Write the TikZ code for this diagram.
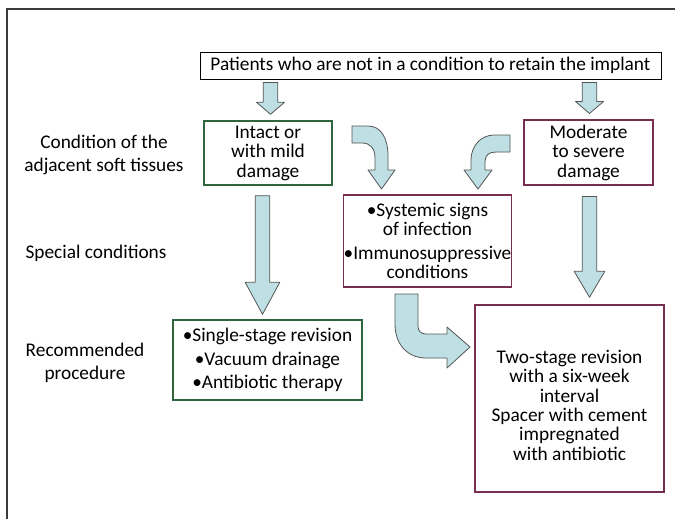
\documentclass[tikz,border=0pt]{standalone}
\usepackage{fontspec}
\setmainfont{Carlito}
\usetikzlibrary{calc}

\definecolor{boxgreen}{RGB}{46,100,62}
\definecolor{boxred}{RGB}{120,46,80}
\definecolor{arrowfill}{RGB}{190,224,228}
\definecolor{arrowline}{RGB}{85,85,85}
\definecolor{framegray}{RGB}{60,60,60}

\newcommand*{\px}{0.75pt}
\newcommand*{\shaft}{5.5pt}
% block arrow pointing down: start, tip, head length, head half width
\newcommand*{\downblock}[4]{%
	\draw[blockarrow] let \p1=(#1), \p2=(#2) in
		(\x1-\shaft,\y1) -- (\x1+\shaft,\y1) -- (\x1+\shaft,\y2+#3) -- (\x1+#4,\y2+#3)
		-- (\x1,\y2) -- (\x1-#4,\y2+#3) -- (\x1-\shaft,\y2+#3) -- cycle;}

\begin{document}
\begin{tikzpicture}
[
	x=\px,
	y=-\px,
	every node/.style={font=\fontsize{14.5}{14.6}\selectfont, align=center},
	greenbox/.style={draw=boxgreen, line width=1.1pt},
	redbox/.style={draw=boxred, line width=1.1pt},
	blockarrow/.style={draw=arrowline, fill=arrowfill, line width=0.6pt, line join=round}
]

	\useasboundingbox (0,0) rectangle (675,519);

	% frame
	\draw[framegray, line width=0.8pt] (675,9) -- (7,9) -- (7,519);

	% row labels
	\node (condlabel) at (104,155) {Condition of the\\[3pt]adjacent soft tissues};
	\node (speclabel) at (96,253) {Special conditions};
	\node (proclabel) at (85,363) {Recommended\\[3pt]procedure};

	% boxes
	\node[draw=black, line width=0.6pt, minimum width=461*\px, minimum height=27*\px, inner sep=0pt]
		(patients) at (430.5,65.5) {Patients who are not in a condition to retain the implant};
	\node[greenbox, minimum width=128*\px, minimum height=64*\px] (intact) at (268,153)
		{Intact or\\with mild\\damage};
	\node[redbox, minimum width=129*\px, minimum height=63*\px] (moderate) at (588.5,152.5)
		{Moderate\\to severe\\damage};
	\node[redbox, inner xsep=0pt, minimum width=163*\px, minimum height=92*\px] (systemic) at (427.5,241)
		{•Systemic signs\\of infection\\[3pt]•Immunosuppressive\\conditions};
	\node[greenbox, minimum width=189*\px, minimum height=80*\px] (single) at (267.5,360)
		{•Single-stage revision\\[3pt]•Vacuum drainage\\[3pt]•Antibiotic therapy};
	\node[redbox, minimum width=189*\px, minimum height=187*\px] (twostage) at (569.5,398.5)
		{\rule{0pt}{20pt}Two-stage revision\\with a six-week\\interval\\Spacer with cement\\impregnated\\with antibiotic};

	% straight arrows
	\downblock{$(intact.north |- patients.south)+(2.5,3)$}{$(intact.north)+(0,-6)$}{9pt}{10.5pt}
	\downblock{$(moderate.north |- patients.south)+(1,3)$}{$(moderate.north)+(0,-6)$}{9pt}{10.5pt}
	\downblock{$(intact.south)+(-5.5,10)$}{$(single.north)+(0,-5)$}{24pt}{13pt}
	\downblock{$(moderate.south)+(1,11)$}{$(twostage.north)+(0,-7)$}{19.5pt}{11.5pt}

	% curved arrows
	\draw[blockarrow] (352,126) -- (368,126) .. controls (381,126) and (388,138) .. (388,156)
		-- (388,170) -- (395,170) -- (381.5,189) -- (368,170) -- (375,170) -- (375,158)
		.. controls (375,148) and (370,143) .. (362,143) -- (352,143) -- cycle;
	\draw[blockarrow] (510,135) -- (494,135) .. controls (481,135) and (471,146) .. (471,160)
		-- (471,170) -- (464,170) -- (478,189) -- (492,170) -- (485,170) -- (485,162)
		.. controls (485,155) and (489,152) .. (496,152) -- (510,152) -- cycle;
	\draw[blockarrow] (395,294) -- (418,294) -- (418,326) .. controls (418,331) and (421,334) .. (426,334)
		-- (447,334) -- (447,327) -- (470,347) -- (447,368) -- (447,358) -- (426,358)
		.. controls (408,358) and (395,345) .. (395,324) -- cycle;

\end{tikzpicture}
\end{document}
